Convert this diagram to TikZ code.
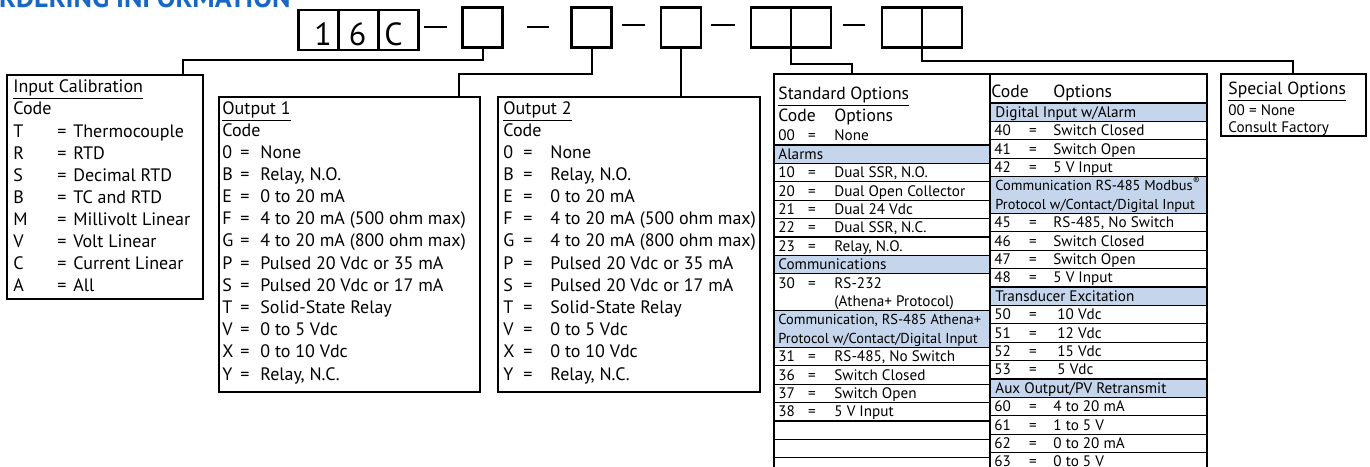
\documentclass[tikz,border=0pt]{standalone}
\usepackage{fontspec}
\setmainfont{PT Sans}
\usetikzlibrary{positioning,calc}
\definecolor{shadeblue}{RGB}{197,214,236}
\definecolor{titleblue}{RGB}{22,104,196}

\begin{document}
\begin{tikzpicture}[x=0.5pt,y=-0.5pt,
  codebox/.style={draw, line width=1.2pt, minimum width=20pt, minimum height=20pt, inner sep=0pt, outer sep=0pt},
  box/.style={draw, line width=1pt, inner sep=0pt, outer sep=0pt, anchor=north west},
  conn/.style={line width=1pt},
  dashln/.style={line width=1.2pt},
  digit/.style={inner sep=0pt, anchor=base, font=\fontsize{16pt}{16pt}\selectfont},
  txt/.style={inner sep=0pt, anchor=mid west, font=\fontsize{9pt}{11pt}\selectfont},
  eq/.style={txt, anchor=mid},
  small/.style={inner sep=0pt, anchor=mid west, font=\fontsize{7.6pt}{9pt}\selectfont},
  smalleq/.style={small, anchor=mid},
  narrow/.style={small, font=\fontsize{7.2pt}{9pt}\selectfont},
  big/.style={inner sep=0pt, anchor=mid west, font=\fontsize{8.8pt}{10pt}\selectfont},
  rowln/.style={line width=0.6pt}
]
\useasboundingbox (0,0) rectangle (1370,466);
\clip (0,0) rectangle (1370,466);

% heading, cut off at the top
\node[anchor=base east, inner sep=0pt, text=titleblue, font=\bfseries\fontsize{14pt}{14pt}\selectfont] (title) at (291,7) {ORDERING INFORMATION};

% model code boxes
\node[codebox] (c1) at (318.5,30) {};
\node[codebox, right=0pt of c1] (c2) {};
\node[codebox, right=0pt of c2] (c3) {};
\node[digit] (d1) at (323,45) {1};
\node[digit] (d2) at (357.5,45) {6};
\node[digit] (d3) at (393.5,45) {C};
\node[codebox] (bA) at (482.5,27.5) {};
\node[codebox] (bB) at (591.5,27.5) {};
\node[codebox] (bC) at (681,27.5) {};
\node[codebox] (bD1) at (771,27.5) {};
\node[codebox, right=0pt of bD1] (bD2) {};
\node[codebox] (bE1) at (902,27.5) {};
\node[codebox, right=0pt of bE1] (bE2) {};
\draw[dashln] (424,27) -- (447,27);
\draw[dashln] (527,27) -- (549,27);
\draw[dashln] (622,25) -- (645,25);
\draw[dashln] (711,25) -- (735,25);
\draw[dashln] (843,25) -- (865,25);

% option boxes
\node[box, minimum width=98pt, minimum height=112pt] (inp) at (7,75) {};
\node[box, minimum width=130.5pt, minimum height=147.5pt] (out1) at (219,97) {};
\node[box, minimum width=131pt, minimum height=147.5pt] (out2) at (498,97) {};
\node[box, minimum width=72.5pt, minimum height=31pt] (spec) at (1221,74) {};

% connectors
\coordinate (inpT) at (183,75);
\coordinate (out1T) at (459,97);
\coordinate (optT) at (852,74);
\coordinate (specT) at (1293,74);
\draw[conn] (bA.south) -- ++(0,12) -| (inpT);
\draw[conn] (bB.south) -- ++(0,26) -| (out1T);
\draw[conn] (bC.south) -- (bC.south |- out2.north);
\draw[conn] (bD1.south east) -- ++(0,16) -| (optT);
\draw[conn] (bE1.south east) -- ++(0,13) -| (specT);

% input calibration
\node[txt] (inpH) at (13,87) {\underline{Input Calibration}};
\node[txt] (inpC) at (13,109.5) {Code};
\foreach \c/\t [count=\i] in {T/Thermocouple, R/RTD, S/Decimal RTD, B/TC and RTD,
    M/Millivolt Linear, V/Volt Linear, C/Current Linear, A/All} {
  \node[txt] (ic\i) at (13,{132+(\i-1)*22.1}) {\c};
  \node[eq] (ie\i) at (62,{132+(\i-1)*22.1}) {=};
  \node[txt] (it\i) at (73,{132+(\i-1)*22.1}) {\t};
}

% output 1 and output 2
\foreach \n/\xc/\xe/\xt in {1/222/245/260, 2/503/528/550} {
  \node[txt] (o\n H) at (\xc,109) {\underline{Output \n}};
  \node[txt] (o\n C) at (\xc,131) {Code};
  \foreach \c/\t [count=\i] in {0/None, B/{Relay, N.O.}, E/0 to 20 mA,
      F/4 to 20 mA (500 ohm max), G/4 to 20 mA (800 ohm max),
      P/Pulsed 20 Vdc or 35 mA, S/Pulsed 20 Vdc or 17 mA, T/Solid-State Relay,
      V/0 to 5 Vdc, X/0 to 10 Vdc, Y/{Relay, N.C.}} {
    \node[txt] (o\n c\i) at (\xc,{153+(\i-1)*22.2}) {\c};
    \node[eq] (o\n e\i) at (\xe,{153+(\i-1)*22.2}) {=};
    \node[txt] (o\n t\i) at (\xt,{153+(\i-1)*22.2}) {\t};
  }
}

% standard options, left column
\foreach \k/\h in {0/1, 6/1, 9/2}
  \fill[shadeblue] (774,{145+\k*18.4}) rectangle (990,{145+(\k+\h)*18.4});
\foreach \k in {0,1,2,3,4,5,6,7,9,11,12,13,14,15,16,17,18}
  \draw[rowln] (774,{145+\k*18.4}) -- (990,{145+\k*18.4});
\node[big] (soH) at (778,94) {\underline{Standard Options}};
\node[big] (soC) at (778,116) {Code};
\node[big] (soO) at (834,116) {Options};
\node[small] (so00) at (778,135) {00};
\node[smalleq] (soe00) at (812,135) {=};
\node[small] (sot00) at (834,135) {None};
\node[small] (sh0) at (778,{145+0.5*18.4}) {Alarms};
\node[small] (sh6) at (778,{145+6.5*18.4}) {Communications};
\node[narrow] (sh9) at (778,{145+9.5*18.4}) {Communication, RS-485 Athena+};
\node[narrow] (sh10) at (778,{145+10.5*18.4}) {Protocol w/Contact/Digital Input};
\foreach \k/\c/\t in {1/10/{Dual SSR, N.O.}, 2/20/Dual Open Collector, 3/21/Dual 24 Vdc,
    4/22/{Dual SSR, N.C.}, 5/23/{Relay, N.O.}, 7/30/RS-232, 11/31/{RS-485, No Switch},
    12/36/Switch Closed, 13/37/Switch Open, 14/38/5 V Input} {
  \node[small] (sc\c) at (778,{145+(\k+0.5)*18.4}) {\c};
  \node[smalleq] (se\c) at (812,{145+(\k+0.5)*18.4}) {=};
  \node[small] (st\c) at (834,{145+(\k+0.5)*18.4}) {\t};
}
\node[small] (st30b) at (834,{145+8.5*18.4}) {(Athena+ Protocol)};

% standard options, right column
\foreach \k/\h in {0/1, 4/2, 10/1, 15/1}
  \fill[shadeblue] (990,{103+\k*18.4}) rectangle (1207,{103+(\k+\h)*18.4});
\foreach \k in {0,1,2,3,4,6,7,8,9,10,11,12,13,14,15,16,17,18,19}
  \draw[rowln] (990,{103+\k*18.4}) -- (1207,{103+\k*18.4});
\node[big] (roC) at (991,92) {Code};
\node[big] (roO) at (1053,92) {Options};
\node[small] (rh0) at (995,{103+0.5*18.4}) {Digital Input w/Alarm};
\node[narrow] (rh4) at (995,{103+4.5*18.4}) {Communication RS-485 Modbus\textsuperscript{\tiny ®}};
\node[narrow] (rh5) at (995,{103+5.5*18.4}) {Protocol w/Contact/Digital Input};
\node[small] (rh10) at (995,{103+10.5*18.4}) {Transducer Excitation};
\node[small] (rh15) at (995,{103+15.5*18.4}) {Aux Output/PV Retransmit};
\foreach \k/\c/\t/\x in {1/40/Switch Closed/1053, 2/41/Switch Open/1053, 3/42/5 V Input/1053,
    6/45/{RS-485, No Switch}/1053, 7/46/Switch Closed/1053, 8/47/Switch Open/1053,
    9/48/5 V Input/1053, 11/50/10 Vdc/1057, 12/51/12 Vdc/1057, 13/52/15 Vdc/1057,
    14/53/5 Vdc/1057, 16/60/4 to 20 mA/1053, 17/61/1 to 5 V/1053, 18/62/0 to 20 mA/1053,
    19/63/0 to 5 V/1053} {
  \node[small] (rc\c) at (994,{103+(\k+0.5)*18.4}) {\c};
  \node[smalleq] (re\c) at (1033,{103+(\k+0.5)*18.4}) {=};
  \node[small] (rt\c) at (\x,{103+(\k+0.5)*18.4}) {\t};
}
\draw[line width=1pt] (774,480) -- (774,74) -- (1207,74) -- (1207,480);
\draw[line width=1pt] (990,74) -- (990,480);

% special options
\node[big] (spH) at (1228,89) {\underline{Special Options}};
\node[small] (sp1) at (1228,110) {00 = None};
\node[small] (sp2) at (1228,127) {Consult Factory};
\end{tikzpicture}
\end{document}
